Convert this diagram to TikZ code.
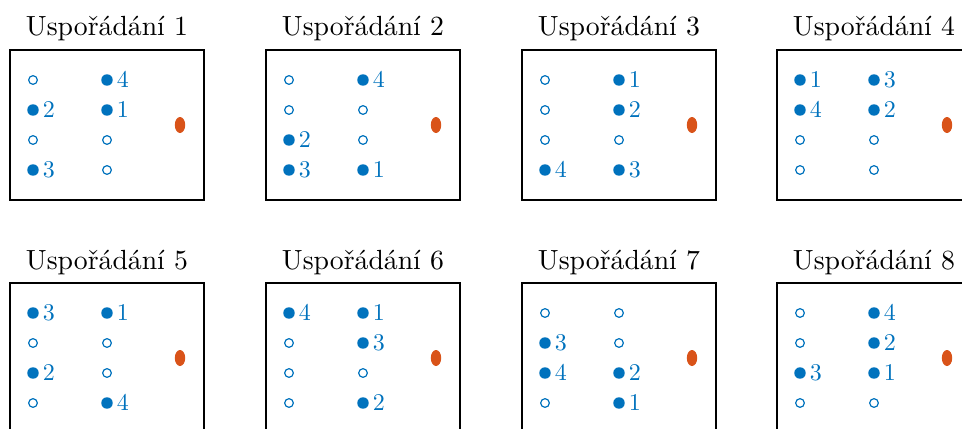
\documentclass[tikz,border=0pt]{standalone}
\usepackage{fontspec}
\usetikzlibrary{shapes.geometric}
\definecolor{dotblue}{HTML}{0072BD}
\definecolor{srcorange}{HTML}{D95319}
\tikzset{
    frame/.style={draw, line width=1.5pt},
    title/.style={anchor=base, inner sep=0pt, font=\fontsize{10}{12}\selectfont, scale=2.08},
    filled/.style={circle, fill=dotblue, inner sep=0pt, minimum size=8.6pt},
    hollow/.style={circle, draw=dotblue, line width=0.9pt, inner sep=0pt, minimum size=6.5pt},
    num/.style={anchor=base west, inner sep=0pt, text=dotblue, font=\fontsize{10}{12}\selectfont, scale=1.8},
    source/.style={ellipse, fill=srcorange, inner sep=0pt, minimum width=7.8pt, minimum height=12pt}
}
% #1 number, #2/#3 top left corner, #4 labels column by column (0 = empty)
\newcommand{\arrangement}[4]{%
    \begin{scope}[shift={(#2,#3)}]
        \draw[frame] (0,0) rectangle (194,150);
        \node[title] (title#1) at (97,-14) {Uspořádání #1};
        \foreach \lab [count=\i from 0] in {#4} {
            \pgfmathtruncatemacro\col{int(\i/4)}
            \pgfmathtruncatemacro\row{mod(\i,4)}
            \ifnum\lab=0
                \node[hollow] (m#1-\i) at ({23+74*\col},{30+30*\row}) {};
            \else
                \node[filled] (m#1-\i) at ({23+74*\col},{30+30*\row}) {};
                \node[num] (n#1-\i) at ({32.5+74*\col},{37.5+30*\row}) {\lab};
            \fi
        }
        \node[source] (src#1) at (170,75) {};
    \end{scope}}
\begin{document}
\begin{tikzpicture}[x=0.75pt, y=-0.75pt]
    \clip (0,0) rectangle (962,428);
    \arrangement{1}{10}{50}{0,2,0,3, 4,1,0,0}
    \arrangement{2}{266}{50}{0,0,2,3, 4,0,0,1}
    \arrangement{3}{522}{50}{0,0,0,4, 1,2,0,3}
    \arrangement{4}{777}{50}{1,4,0,0, 3,2,0,0}
    \arrangement{5}{10}{283}{3,0,2,0, 1,0,0,4}
    \arrangement{6}{266}{283}{4,0,0,0, 1,3,0,2}
    \arrangement{7}{522}{283}{0,3,4,0, 0,0,2,1}
    \arrangement{8}{777}{283}{0,0,3,0, 4,2,1,0}
\end{tikzpicture}
\end{document}
